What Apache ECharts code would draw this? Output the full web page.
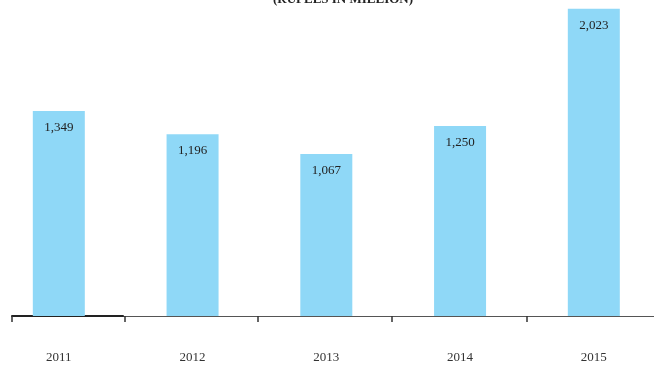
<!DOCTYPE html>
<html>
<head>
<meta charset="utf-8">
<script src="https://cdn.jsdelivr.net/npm/echarts@6/dist/echarts.min.js"></script>
<style>
  html, body { margin: 0; padding: 0; background: #fff; }
  #chart { width: 654px; height: 368px; }
</style>
</head>
<body>
<div id="chart"></div>
<script>
// Yearly figures, rupees in million
const years = [2011, 2012, 2013, 2014, 2015];
const amounts = [1349, 1196, 1067, 1250, 2023];
const titleText = '(RUPEES IN MILLION)';
// Axis ticks sit halfway between the years, plus one at the axis start
const tickPositions = [2010.65, 2011.49, 2012.49, 2013.49, 2014.5];

const fmt = v => v.toLocaleString('en-US');
const serif = '"Liberation Serif", "DejaVu Serif", serif';

const chart = echarts.init(document.getElementById('chart'));
chart.setOption({
  animation: false,
  title: {
    text: titleText,
    left: 338,
    textAlign: 'center',
    top: -12,
    textStyle: { fontFamily: serif, fontSize: 13, fontWeight: 'bold', color: '#222' }
  },
  grid: [
    { left: 12, right: 0, top: 0, bottom: 52, containLabel: false },
    // darker first segment of the baseline
    { left: 12, width: 111, top: 0, bottom: 52, containLabel: false }
  ],
  xAxis: [{
    type: 'value',
    gridIndex: 0,
    min: 2010.65,
    max: 2015.45,
    splitLine: { show: false },
    axisLine: { show: true, onZero: false, lineStyle: { color: '#555', width: 1 } },
    axisTick: { show: true, length: 6, customValues: tickPositions, lineStyle: { color: '#333', width: 1.5 } },
    axisLabel: {
      margin: 35,
      customValues: years,
      formatter: v => String(Math.round(v)),
      fontFamily: serif,
      fontSize: 13,
      color: '#333'
    }
  }, {
    type: 'value',
    gridIndex: 1,
    min: 0,
    max: 1,
    splitLine: { show: false },
    axisLine: { show: true, onZero: false, lineStyle: { color: '#222', width: 2 } },
    axisTick: { show: false },
    axisLabel: { show: false }
  }],
  yAxis: [{
    type: 'value',
    gridIndex: 0,
    min: 0,
    max: 2080,
    show: false,
    splitLine: { show: false }
  }, {
    type: 'value',
    gridIndex: 1,
    min: 0,
    max: 1,
    show: false,
    splitLine: { show: false }
  }],
  series: [{
    type: 'bar',
    xAxisIndex: 0,
    yAxisIndex: 0,
    data: years.map((y, i) => [y, amounts[i]]),
    barWidth: 52,
    itemStyle: { color: '#8fd8f7' },
    label: {
      show: true,
      position: 'insideTop',
      distance: 10,
      formatter: p => fmt(p.value[1]),
      fontFamily: serif,
      fontSize: 13,
      color: '#222'
    }
  }]
});
</script>
</body>
</html>
